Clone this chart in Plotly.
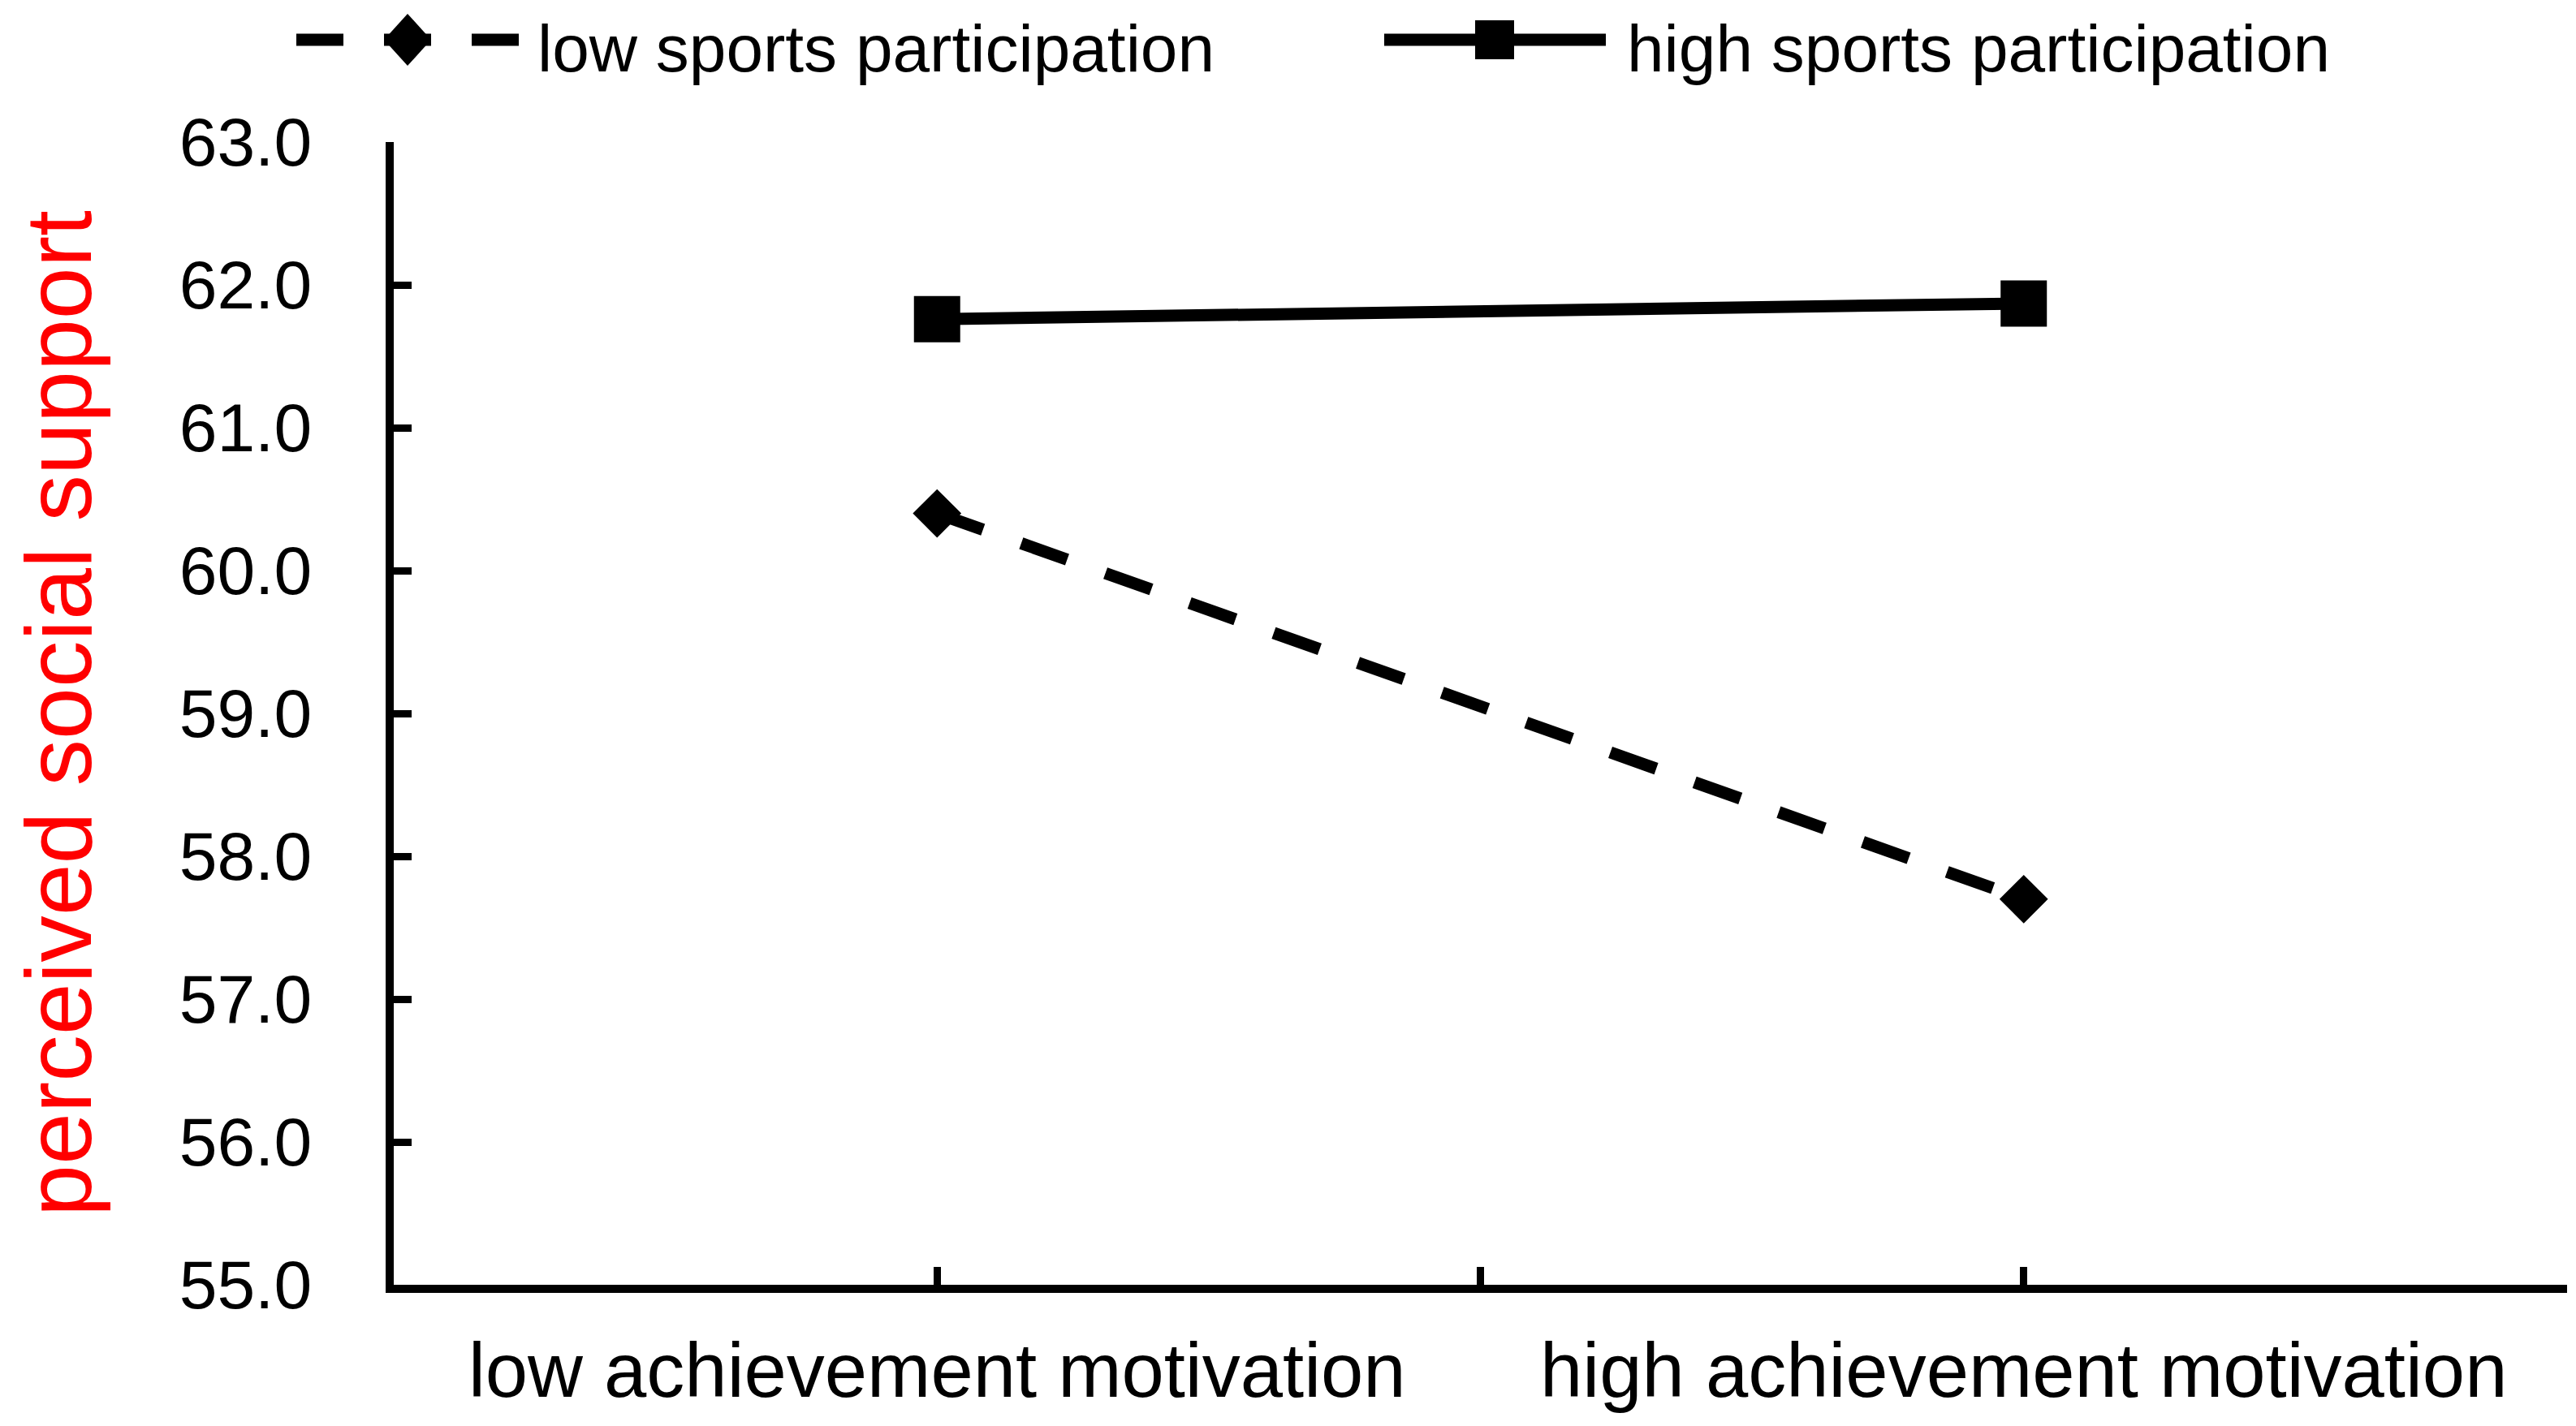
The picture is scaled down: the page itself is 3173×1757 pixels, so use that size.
import plotly.graph_objects as go

# data
categories = ["low achievement motivation", "high achievement motivation"]
x_pos = [1, 2]
low_sports = [60.40, 57.70]
high_sports = [61.76, 61.87]
y_ticks = [55, 56, 57, 58, 59, 60, 61, 62, 63]

# the page puts the figure a few pixels in from the window corner
OFF_X, OFF_Y = 3, 8
W, H = 3173 - OFF_X, 1757 - OFF_Y
L, R, T, B = 480 - OFF_X, 16, 175 - OFF_Y, 174
PW, PH = W - L - R, H - T - B
FONT = "Arial, Liberation Sans, sans-serif"


def px(x):
    # x in window pixels -> paper coords
    return (x - OFF_X - L) / PW


def py(y):
    return (H - B - (y - OFF_Y)) / PH


fig = go.Figure()

fig.add_trace(go.Scatter(
    x=x_pos, y=low_sports, mode="lines+markers", name="low sports participation",
    line=dict(color="black", width=15, dash="60px,50px"),
    marker=dict(symbol="diamond", size=46, color="black"),
))
fig.add_trace(go.Scatter(
    x=x_pos, y=high_sports, mode="lines+markers", name="high sports participation",
    line=dict(color="black", width=15),
    marker=dict(symbol="square", size=57, color="black"),
))

# legend drawn by hand so the symbol lines are as long as in the original
ly = 49
ty = 60
shapes = [
    dict(type="line", xref="paper", yref="paper", x0=px(360), x1=px(637), y0=py(ly), y1=py(ly),
         line=dict(color="black", width=15, dash="58px,50px")),
    dict(type="path", xref="paper", yref="paper", fillcolor="black", line=dict(width=0),
         path=f"M {px(468)} {py(ly)} L {px(497)} {py(ly - 32)} L {px(526)} {py(ly)} L {px(497)} {py(ly + 32)} Z"),
    dict(type="line", xref="paper", yref="paper", x0=px(1700), x1=px(1973), y0=py(ly), y1=py(ly),
         line=dict(color="black", width=15)),
    dict(type="rect", xref="paper", yref="paper", x0=px(1812), x1=px(1860), y0=py(ly + 24), y1=py(ly - 24),
         fillcolor="black", line=dict(width=0)),
]
annotations = [
    dict(text="low sports participation", xref="paper", yref="paper", x=px(655), y=py(ty),
         xanchor="left", yanchor="middle", showarrow=False, font=dict(size=82, color="black", family=FONT)),
    dict(text="high sports participation", xref="paper", yref="paper", x=px(1997), y=py(ty),
         xanchor="left", yanchor="middle", showarrow=False, font=dict(size=82, color="black", family=FONT)),
]

fig.update_layout(
    width=W, height=H,
    margin=dict(l=L, r=R, t=T, b=B),
    paper_bgcolor="white", plot_bgcolor="white",
    showlegend=False,
    font=dict(family=FONT, color="black"),
    shapes=shapes, annotations=annotations,
)

fig.update_xaxes(
    range=[0.5, 2.5], tickvals=x_pos, ticktext=categories,
    showgrid=False, zeroline=False,
    showline=True, linecolor="black", linewidth=10,
    ticks="inside", ticklen=22, tickwidth=9, tickcolor="black",
    minor=dict(ticks="inside", ticklen=22, tickwidth=9, tickcolor="black", dtick=0.5, tick0=0.5, showgrid=False),
    tickfont=dict(size=94, color="black"), ticklabelstandoff=15,
    automargin=False,
)
fig.update_yaxes(
    range=[55, 63], tickvals=y_ticks, tickformat=".1f",
    showgrid=False, zeroline=False,
    showline=True, linecolor="black", linewidth=10,
    ticks="inside", ticklen=22, tickwidth=9, tickcolor="black",
    tickfont=dict(size=84, color="black"), ticklabelstandoff=74,
    title=dict(text="perceived social support", font=dict(size=115, color="#ff0000"), standoff=124),
    automargin=False,
)

fig.write_html("out.html")
